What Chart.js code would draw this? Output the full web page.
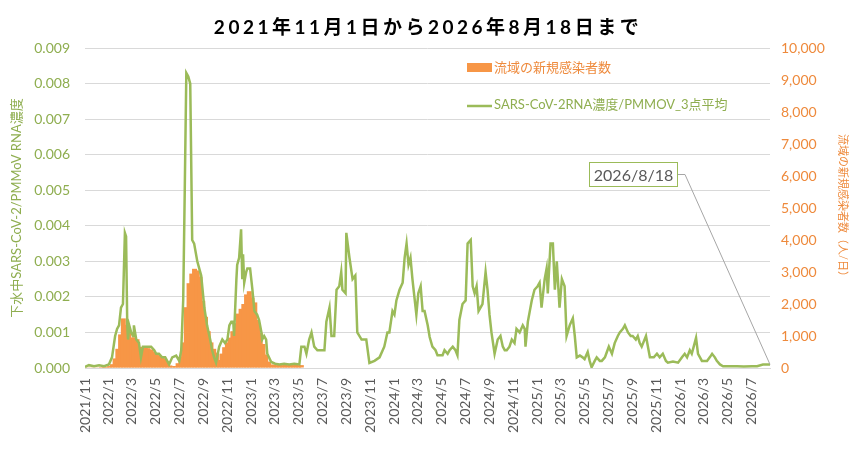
<!DOCTYPE html>
<html>
<head>
<meta charset="utf-8">
<script src="https://cdn.jsdelivr.net/npm/chart.js@4.4.1/dist/chart.umd.min.js"></script>
<style>
  html, body { margin: 0; padding: 0; background: #fff; }
  #wrap { width: 858px; height: 449px; position: relative; }
</style>
</head>
<body>
<div id="wrap"><canvas id="myChart"></canvas></div>
<script>
// days counted from 2021/11/1
const startDate = Date.UTC(2021, 10, 1);
const endDay = 1751; // 2026/8/18

const tickLabels = [
    '2021/11', '2022/1', '2022/3', '2022/5', '2022/7', '2022/9', '2022/11',
    '2023/1', '2023/3', '2023/5', '2023/7', '2023/9', '2023/11',
    '2024/1', '2024/3', '2024/5', '2024/7', '2024/9', '2024/11',
    '2025/1', '2025/3', '2025/5', '2025/7', '2025/9', '2025/11',
    '2026/1', '2026/3', '2026/5', '2026/7'
];

// SARS-CoV-2 RNA / PMMoV (3-point average)
const rnaDays = [
    0, 10, 23, 36, 49, 61, 69, 77, 82, 87,
    92, 97, 102, 105, 108, 110, 113, 118, 123, 125,
    131, 138, 143, 148, 159, 169, 177, 182, 189, 197,
    205, 215, 223, 233, 241, 246, 251, 255, 259, 264,
    269, 274, 279, 287, 297, 305, 312, 320, 325, 330,
    335, 343, 351, 358, 364, 369, 374, 379, 381, 387,
    389, 394, 399, 402, 404, 407, 412, 415, 422, 428,
    433, 440, 445, 451, 453, 458, 463, 466, 476, 486,
    497, 509, 522, 535, 548, 553, 561, 566, 573, 579,
    586, 594, 604, 612, 617, 625, 630, 637, 643, 650,
    655, 658, 666, 668, 676, 684, 691, 696, 707, 714,
    719, 727, 740, 753, 765, 773, 778, 786, 791, 796,
    804, 812, 817, 822, 827, 832, 837, 842, 847, 852,
    858, 863, 868, 876, 881, 888, 896, 901, 914, 919,
    927, 932, 940, 947, 952, 957, 965, 973, 978, 986,
    991, 996, 1001, 1006, 1011, 1016, 1024, 1029, 1034, 1039,
    1047, 1055, 1062, 1068, 1073, 1078, 1085, 1091, 1098, 1103,
    1111, 1119, 1124, 1126, 1132, 1137, 1142, 1149, 1157, 1162,
    1167, 1175, 1180, 1183, 1190, 1196, 1201, 1206, 1213, 1219,
    1226, 1231, 1239, 1247, 1252, 1257, 1265, 1272, 1277, 1285,
    1290, 1295, 1303, 1308, 1316, 1321, 1329, 1334, 1339, 1347,
    1354, 1362, 1367, 1375, 1380, 1388, 1395, 1400, 1408, 1413,
    1418, 1423, 1434, 1439, 1444, 1454, 1462, 1469, 1477, 1485,
    1490, 1503, 1516, 1526, 1533, 1539, 1546, 1551, 1556, 1562,
    1567, 1577, 1590, 1597, 1603, 1610, 1615, 1623, 1631, 1649,
    1667, 1684, 1705, 1718, 1733, 1746, 1751
];
const rnaValues = [
    0.00003, 0.00008, 0.00005, 0.00008, 0.00005, 0.0001, 0.0003, 0.0009, 0.0011, 0.0012,
    0.0017, 0.0018, 0.0038, 0.0037, 0.0012, 0.0008, 0.0012, 0.0010, 0.0009, 0.0012,
    0.0008, 0.0007, 0.0003, 0.0006, 0.0006, 0.0006, 0.0005, 0.0004, 0.0004, 0.0003,
    0.0003, 0.0001, 0.0003, 0.00035, 0.0002, 0.0005, 0.0019, 0.0050, 0.0083, 0.0082,
    0.0080, 0.0036, 0.0035, 0.0030, 0.0026, 0.0017, 0.0012, 0.0008, 0.0005, 0.0003,
    0.00015, 0.0006, 0.0008, 0.0007, 0.0008, 0.0012, 0.0013, 0.0013, 0.0009, 0.0025,
    0.0029, 0.0031, 0.0039, 0.0025, 0.0032, 0.0024, 0.0027, 0.0028, 0.0028, 0.0022,
    0.0016, 0.0015, 0.00135, 0.0010, 0.0008, 0.0009, 0.0008, 0.0004, 0.00017, 0.00012,
    0.0001, 0.00012, 0.0001, 0.00012, 0.0001, 0.0006, 0.0006, 0.0004, 0.0008, 0.0010,
    0.0006, 0.0005, 0.0005, 0.0005, 0.0013, 0.0017, 0.0009, 0.0009, 0.0022, 0.0023,
    0.0027, 0.0022, 0.0021, 0.0038, 0.0031, 0.0025, 0.0026, 0.0010, 0.0008, 0.0008,
    0.0008, 0.00014, 0.0002, 0.0003, 0.0006, 0.0010, 0.0010, 0.0016, 0.0015, 0.0019,
    0.0022, 0.0024, 0.0031, 0.0035, 0.0029, 0.0031, 0.0025, 0.0020, 0.0015, 0.0021,
    0.0023, 0.0016, 0.0016, 0.0012, 0.00087, 0.0006, 0.0005, 0.00036, 0.00036, 0.0005,
    0.0004, 0.0005, 0.0006, 0.0005, 0.00036, 0.00135, 0.0018, 0.0019, 0.0035, 0.0036,
    0.0023, 0.0021, 0.0023, 0.0016, 0.0017, 0.0018, 0.0027, 0.0022, 0.0015, 0.0010,
    0.0004, 0.0008, 0.0009, 0.0006, 0.0005, 0.0005, 0.0006, 0.0008, 0.0007, 0.0011,
    0.0010, 0.0012, 0.0011, 0.0006, 0.0013, 0.0016, 0.0019, 0.0022, 0.0023, 0.0024,
    0.0017, 0.0025, 0.0028, 0.0021, 0.0035, 0.0035, 0.0022, 0.0030, 0.0017, 0.0025,
    0.0023, 0.0009, 0.0012, 0.0014, 0.0009, 0.0003, 0.00035, 0.0003, 0.00025, 0.00045,
    0.0002, 0.00002, 0.0002, 0.0003, 0.0002, 0.0002, 0.0003, 0.00045, 0.0006, 0.0004,
    0.0007, 0.0009, 0.0010, 0.0011, 0.0012, 0.0010, 0.0009, 0.0009, 0.0008, 0.0009,
    0.0007, 0.0006, 0.0009, 0.0006, 0.0003, 0.0003, 0.0004, 0.0003, 0.0004, 0.0002,
    0.00015, 0.00018, 0.00015, 0.0003, 0.0004, 0.0003, 0.0005, 0.0004, 0.0006, 0.00085,
    0.0004, 0.0002, 0.0002, 0.0003, 0.0004, 0.0003, 0.0002, 0.0001, 0.00005, 0.00005,
    0.00005, 0.00004, 0.00005, 0.00005, 0.0001, 0.0001, 0.0001
];

// new cases in the basin, one value per week from 2021/11/1 (ends 2023/5/8)
const newCases = [
    20, 20, 20, 20, 20, 20, 30, 30, 40, 60,
    120, 300, 600, 1050, 1550, 1350, 1100, 950, 960, 900,
    650, 660, 640, 620, 580, 520, 430, 400, 370, 300,
    200, 80, 60, 60, 150, 350, 800, 1900, 2650, 2950,
    3100, 3050, 2850, 2100, 1600, 1150, 800, 600, 480, 250,
    450, 650, 800, 950, 1150, 1400, 1700, 1850, 2000, 2300,
    2400, 2200, 2050, 1500, 1100, 750, 420, 200, 110, 100,
    90, 95, 90, 100, 90, 95, 90, 100, 90, 90
];

const FONT = 'Lato, "Noto Sans CJK JP", sans-serif';
const GREEN = '#9bbb59';
const GREEN_TEXT = '#8fae50';
const ORANGE = '#f79646';
const ORANGE_TEXT = '#ee8a3c';

function dayOf(label) {
    const [y, m] = label.split('/').map(Number);
    return (Date.UTC(y, m - 1, 1) - startDate) / 86400000;
}

Chart.defaults.font.family = FONT;

// title, legend and the last-date callout
const extras = {
    id: 'extras',
    afterDraw(chart) {
        const ctx = chart.ctx;
        ctx.save();

        ctx.fillStyle = '#000';
        ctx.font = 'bold 19px ' + FONT;
        ctx.letterSpacing = '3.5px';
        ctx.textAlign = 'center';
        ctx.textBaseline = 'middle';
        ctx.fillText('2021年11月1日から2026年8月18日まで', 428, 28);
        ctx.letterSpacing = '0px';

        ctx.textAlign = 'left';
        ctx.font = '13px ' + FONT;
        ctx.fillStyle = ORANGE;
        ctx.fillRect(467, 63, 25, 9);
        ctx.fillStyle = ORANGE_TEXT;
        ctx.fillText('流域の新規感染者数', 494, 68);

        ctx.strokeStyle = GREEN;
        ctx.lineWidth = 2.5;
        ctx.beginPath();
        ctx.moveTo(467, 106);
        ctx.lineTo(492, 106);
        ctx.stroke();
        ctx.fillStyle = GREEN_TEXT;
        ctx.fillText('SARS-CoV-2RNA濃度/PMMOV_3点平均', 494, 105);

        // callout for the final sample
        const px = chart.scales.x.getPixelForValue(rnaDays[rnaDays.length - 1]);
        const py = chart.scales.y.getPixelForValue(rnaValues[rnaValues.length - 1]);
        const bx = 589, by = 162, bw = 89, bh = 25;
        ctx.strokeStyle = '#a6a6a6';
        ctx.lineWidth = 1;
        ctx.beginPath();
        ctx.moveTo(bx + bw, by + bh / 2);
        ctx.lineTo(bx + bw + 7, by + bh / 2);
        ctx.lineTo(px, py);
        ctx.stroke();

        ctx.fillStyle = '#fff';
        ctx.fillRect(bx, by, bw, bh);
        ctx.strokeStyle = GREEN;
        ctx.strokeRect(bx + 0.5, by + 0.5, bw - 1, bh - 1);
        ctx.fillStyle = '#595959';
        ctx.font = '16px ' + FONT;
        ctx.textAlign = 'center';
        ctx.fillText('2026/8/18', bx + bw / 2, by + bh / 2 + 1);

        ctx.restore();
    }
};

new Chart(document.getElementById('myChart'), {
    type: 'bar',
    data: {
        datasets: [{
            type: 'line',
            label: 'SARS-CoV-2RNA濃度/PMMOV_3点平均',
            data: rnaDays.map((d, i) => ({ x: d, y: rnaValues[i] })),
            yAxisID: 'y',
            borderColor: GREEN,
            borderWidth: 2.5,
            pointRadius: 0,
            tension: 0,
            order: 1
        },
        {
            type: 'bar',
            label: '流域の新規感染者数',
            data: newCases.map((v, i) => ({ x: i * 7, y: v })),
            yAxisID: 'y2',
            backgroundColor: ORANGE,
            borderWidth: 0,
            grouped: false,
            barThickness: 5,
            inflateAmount: 0,
            order: 2
        }]
    },
    options: {
        responsive: true,
        maintainAspectRatio: false,
        animation: false,
        layout: { padding: { top: 48, left: 0, right: 0, bottom: 0 } },
        plugins: {
            legend: { display: false },
            title: { display: false },
            tooltip: { enabled: false }
        },
        scales: {
            x: {
                type: 'linear',
                min: 0,
                max: endDay,
                offset: false,
                grid: { display: false, drawTicks: false },
                border: { display: true, color: '#d9d9d9' },
                afterBuildTicks: (scale) => {
                    scale.ticks = tickLabels.map(l => ({ value: dayOf(l) }));
                },
                afterFit: (scale) => { scale.height = 81; },
                ticks: {
                    autoSkip: false,
                    minRotation: 90,
                    maxRotation: 90,
                    padding: 10,
                    color: '#595959',
                    font: { size: 14 },
                    callback: (v, i) => tickLabels[i]
                }
            },
            y: {
                position: 'left',
                min: 0,
                max: 0.009,
                afterFit: (scale) => { scale.width = 85; },
                grid: { color: '#d9d9d9', drawTicks: false },
                border: { display: false },
                ticks: {
                    stepSize: 0.001,
                    padding: 15,
                    color: GREEN_TEXT,
                    font: { size: 14 },
                    callback: (v) => v.toFixed(3)
                },
                title: {
                    display: true,
                    text: '下水中SARS-CoV-2/PMMoV RNA濃度',
                    color: GREEN_TEXT,
                    font: { size: 13 },
                    padding: { top: 9, bottom: 0 }
                }
            },
            y2: {
                position: 'right',
                min: 0,
                max: 10000,
                afterFit: (scale) => { scale.width = 88; },
                grid: { drawOnChartArea: false, drawTicks: false },
                border: { display: false },
                ticks: {
                    stepSize: 1000,
                    padding: 11,
                    color: ORANGE_TEXT,
                    font: { size: 14 },
                    callback: (v) => v.toLocaleString('en-US')
                },
                title: {
                    display: true,
                    text: '流域の新規感染者数（人/日）',
                    color: ORANGE_TEXT,
                    font: { size: 11 },
                    padding: { top: 9, bottom: 0 }
                }
            }
        }
    },
    plugins: [extras]
});
</script>
</body>
</html>
